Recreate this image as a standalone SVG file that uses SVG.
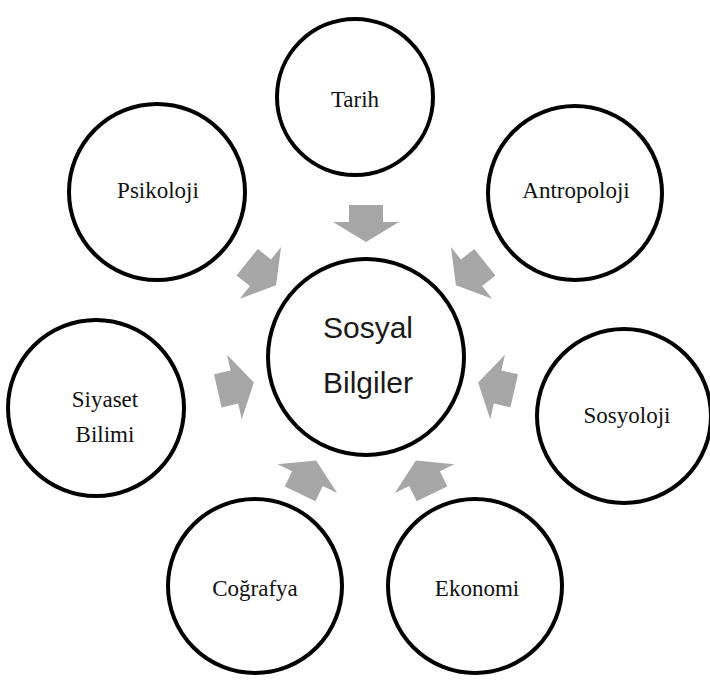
<svg xmlns="http://www.w3.org/2000/svg" width="710" height="682" viewBox="0 0 710 682">
<style>
.c{fill:#fff;stroke:#000;stroke-width:4}
.t{font-family:"Liberation Serif","Times New Roman",serif;font-size:23px;fill:#111;text-anchor:middle}
.m{font-family:"Liberation Sans",Arial,sans-serif;font-size:30px;fill:#1a1a1a;text-anchor:middle}
.a{fill:#a6a6a6}
</style>
<defs>
<path id="arr" d="M-17,-37 L17,-37 L17,-20 L33,-20 L0,0 L-33,-20 L-17,-20 Z"/>
</defs>
<rect width="710" height="682" fill="#fff"/>
<g id="connectors">
<use href="#arr" class="a" transform="translate(366,357) rotate(0) translate(0,-115)"/>
<use href="#arr" class="a" transform="translate(366,357) rotate(51.43) translate(0,-115)"/>
<use href="#arr" class="a" transform="translate(366,357) rotate(102.86) translate(0,-115)"/>
<use href="#arr" class="a" transform="translate(366,357) rotate(154.29) translate(0,-115)"/>
<use href="#arr" class="a" transform="translate(366,357) rotate(205.71) translate(0,-115)"/>
<use href="#arr" class="a" transform="translate(366,357) rotate(257.14) translate(0,-115)"/>
<use href="#arr" class="a" transform="translate(366,357) rotate(308.57) translate(0,-115)"/>
</g>
<g id="center">
<circle class="c" cx="366" cy="357" r="98"/>
<text class="m" x="368" y="338">Sosyal</text>
<text class="m" x="368" y="393">Bilgiler</text>
</g>
<g id="tarih">
<circle class="c" cx="355" cy="97" r="78"/>
<text class="t" x="355" y="107">Tarih</text>
</g>
<g id="antropoloji">
<circle class="c" cx="575" cy="193" r="87"/>
<text class="t" x="576" y="198">Antropoloji</text>
</g>
<g id="sosyoloji">
<circle class="c" cx="624" cy="416" r="87"/>
<text class="t" x="627" y="423">Sosyoloji</text>
</g>
<g id="ekonomi">
<circle class="c" cx="475" cy="586" r="87"/>
<text class="t" x="477" y="596">Ekonomi</text>
</g>
<g id="cografya">
<circle class="c" cx="255" cy="586" r="87"/>
<text class="t" x="255" y="596">Coğrafya</text>
</g>
<g id="siyaset">
<circle class="c" cx="96" cy="408" r="88"/>
<text class="t" x="105" y="407">Siyaset</text>
<text class="t" x="105" y="442">Bilimi</text>
</g>
<g id="psikoloji">
<circle class="c" cx="157" cy="192" r="88"/>
<text class="t" x="158" y="198">Psikoloji</text>
</g>
</svg>
